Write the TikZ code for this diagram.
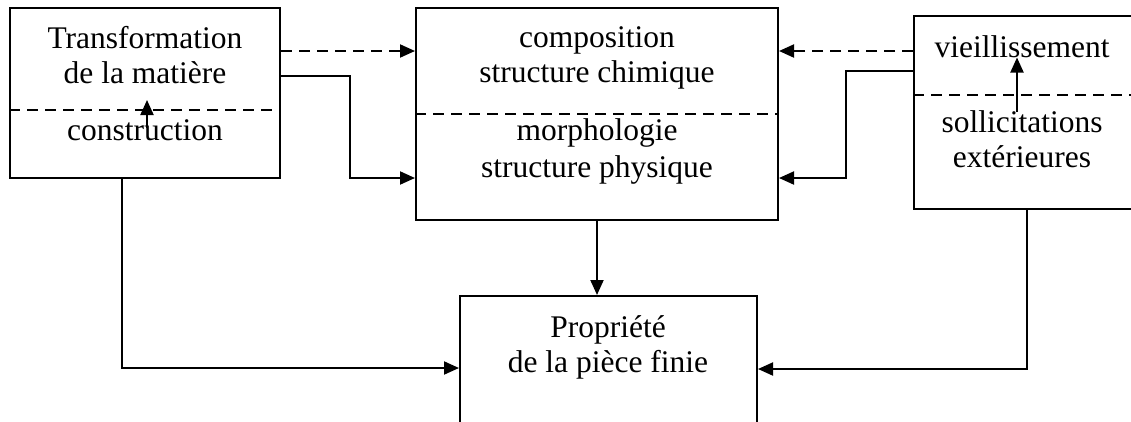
\documentclass[tikz,border=0pt]{standalone}
\usepackage{fontspec}
\setmainfont{Liberation Serif}
\usetikzlibrary{arrows.meta}
\begin{document}
\begin{tikzpicture}[x=1pt,y=-1pt,
  box/.style={draw,line width=2pt,rectangle,inner sep=0pt},
  txt/.style={anchor=base,inner sep=0pt,font=\fontsize{31.5}{35}\selectfont},
  conn/.style={line width=2pt,-{Triangle[length=15pt,width=13pt]}},
  sep/.style={line width=2pt,dash pattern=on 11pt off 7pt},
  dconn/.style={conn,dash pattern=on 11pt off 7pt}]
\useasboundingbox (0,0) rectangle (1131,421);
\clip (0,0) rectangle (1131,421);
% boxes
\node[box,minimum width=270pt,minimum height=170pt] (L) at (145,93) {};
\node[box,minimum width=362pt,minimum height=212pt] (M) at (597,114) {};
\node[box,minimum width=226pt,minimum height=193pt] (R) at (1027,112.5) {};
\node[box,minimum width=297pt,minimum height=150pt] (B) at (608.5,371) {};
% separators
\draw[sep] (L.west |- 0,110) -- (L.east |- 0,110);
\draw[sep] (M.west |- 0,114) -- (M.east |- 0,114);
\draw[sep] (R.west |- 0,95) -- (R.east |- 0,95);
% texts
\node[txt] (t1) at (145,48) {Transformation};
\node[txt] (t2) at (145,83) {de la matière};
\node[txt] (t3) at (145,140) {construction};
\node[txt] (m1) at (597,47) {composition};
\node[txt] (m2) at (597,82) {structure chimique};
\node[txt] (m3) at (597,140) {morphologie};
\node[txt] (m4) at (597,177) {structure physique};
\node[txt] (r1) at (1022,57) {vieillissement};
\node[txt] (r2) at (1022,132) {sollicitations};
\node[txt] (r3) at (1022,167) {extérieures};
\node[txt] (b1) at (608,337) {Propriété};
\node[txt] (b2) at (608,372) {de la pièce finie};
% internal arrows
\draw[conn] (t3.base -| 147,0) ++(0,-12) coordinate (la) (la) -- (147,100);
\draw[conn] (1017,112) coordinate (ra) -- (r1.south -| 1017,0);
% connectors
\draw[dconn] (L.east |- 0,51) -- (M.west |- 0,51);
\draw[conn] (L.east |- 0,76) -- (350,76) |- (M.west |- 0,178);
\draw[dconn] (R.west |- 0,51) -- (M.east |- 0,51);
\draw[conn] (R.west |- 0,71) -- (846,71) |- (M.east |- 0,178);
\draw[conn] (M.south -| 597,0) -- (B.north -| 597,0);
\draw[conn] (L.south -| 122,0) |- (B.west |- 0,368);
\draw[conn] (R.south -| 1027,0) |- (B.east |- 0,369);
\end{tikzpicture}
\end{document}
